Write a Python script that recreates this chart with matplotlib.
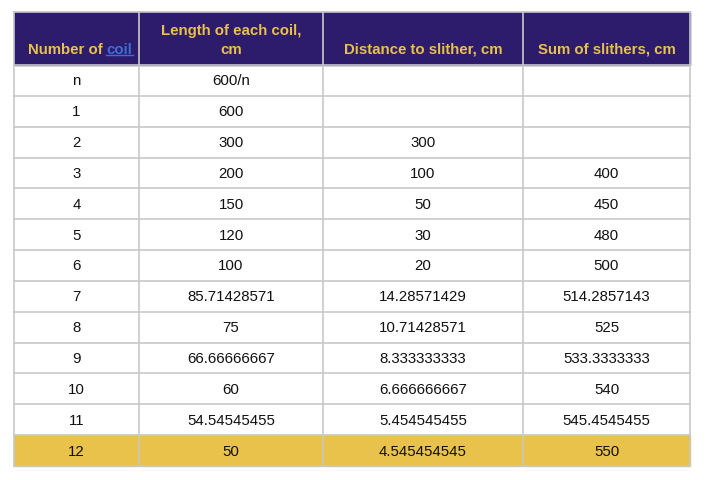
import matplotlib.pyplot as plt
from matplotlib.patches import Rectangle

headers = ["Number of coil", "Length of each coil,\ncm", "Distance to slither, cm", "Sum of slithers, cm"]
col_n = ["n", "1", "2", "3", "4", "5", "6", "7", "8", "9", "10", "11", "12"]
col_length = ["600/n", "600", "300", "200", "150", "120", "100", "85.71428571", "75",
              "66.66666667", "60", "54.54545455", "50"]
col_distance = ["", "", "300", "100", "50", "30", "20", "14.28571429", "10.71428571",
                "8.333333333", "6.666666667", "5.454545455", "4.545454545"]
col_sum = ["", "", "", "400", "450", "480", "500", "514.2857143", "525",
           "533.3333333", "540", "545.4545455", "550"]

HEADER_BG = "#2d1b6b"
HEADER_FG = "#e9c24c"
HIGHLIGHT = "#e9c24c"
GRID = "#c8c8c8"

plt.rcParams["font.family"] = ["Liberation Sans", "DejaVu Sans"]

fig = plt.figure(figsize=(7.05, 4.81), dpi=100)
ax = fig.add_axes([0, 0, 1, 1])
ax.set_xlim(0, 705)
ax.set_ylim(481, 0)
ax.axis("off")

xs = [14, 139, 323, 523, 690]
top, head_bot, bottom = 13, 66, 467
n_rows = len(col_n)
row_h = (bottom - head_bot) / n_rows

# header
ax.add_patch(Rectangle((xs[0], top), xs[-1] - xs[0], head_bot - top, color=HEADER_BG, zorder=0))
hy = head_bot - 12
ax.text(103, hy, "Number of", ha="right", va="baseline", color=HEADER_FG, fontsize=10.8, fontweight="bold")
ax.text(106, hy, "coil", ha="left", va="baseline", color="#3b6fd6", fontsize=10.8, fontweight="bold")
ax.plot([106, 133], [hy + 2, hy + 2], color="#3b6fd6", lw=1)
for i in range(1, 4):
    cx = (xs[i] + xs[i + 1]) / 2
    ax.text(cx, hy, headers[i], ha="center", va="baseline", color=HEADER_FG,
            fontsize=10.8, fontweight="bold", linespacing=1.45, multialignment="center")

# highlighted last row
ax.add_patch(Rectangle((xs[0], bottom - row_h), xs[-1] - xs[0], row_h, color=HIGHLIGHT, zorder=0))

columns = [col_n, col_length, col_distance, col_sum]
for r in range(n_rows):
    cy = head_bot + (r + 0.5) * row_h
    for c, col in enumerate(columns):
        cx = (xs[c] + xs[c + 1]) / 2
        ax.text(cx, cy, col[r], ha="center", va="center", fontsize=10.8, color="#111111")

# grid lines
for r in range(n_rows + 1):
    y = head_bot + r * row_h
    ax.plot([xs[0], xs[-1]], [y, y], color=GRID, lw=1.2, zorder=2)
ax.plot([xs[0], xs[-1]], [top, top], color=GRID, lw=1.2, zorder=2)
for x in xs:
    ax.plot([x, x], [top, bottom], color=GRID, lw=1.2, zorder=2)

fig.savefig("out.png", dpi=100, facecolor="white")
